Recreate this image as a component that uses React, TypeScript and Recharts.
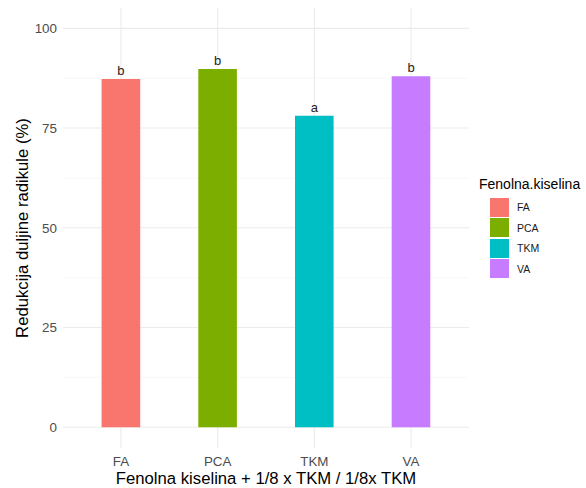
import { Bar, BarChart, CartesianGrid, Cell, LabelList, XAxis, YAxis } from "recharts";

const categories = ["FA", "PCA", "TKM", "VA"];
const reduction = [87.3, 89.8, 78.1, 88.0];
const letters = ["b", "b", "a", "b"];
const colors = ["#F8766D", "#7CAE00", "#00BFC4", "#C77CFF"];
const yTicks = [0, 25, 50, 75, 100];
const minorTicks = [12.5, 37.5, 62.5, 87.5];

const data = categories.map((name, i) => ({ name, value: reduction[i], sig: letters[i] }));

const font = '"Liberation Sans", Arial, sans-serif';
const yDomain: [number, number] = [-5.2, 105.1];
const xPad = 9.6;

// gridline positions from the plot offset and the axis domain
const yLines = (vals: number[]) => ({ offset }: any) =>
  vals.map((v) => offset.top + ((yDomain[1] - v) / (yDomain[1] - yDomain[0])) * offset.height);
const xLines = ({ offset }: any) => {
  const band = (offset.width - 2 * xPad) / categories.length;
  return categories.map((_, i) => offset.left + xPad + band * (i + 0.5));
};

const YTitle = ({ viewBox }: any) => {
  const cy = viewBox.y + viewBox.height / 2;
  return (
    <text
      x={22}
      y={cy}
      transform={`rotate(-90, 22, ${cy})`}
      textAnchor="middle"
      dominantBaseline="central"
      fontSize={16.7}
      fontFamily={font}
      fill="#000"
    >
      Redukcija duljine radikule (%)
    </text>
  );
};

const XTitle = ({ viewBox }: any) => (
  <text
    x={viewBox.x + viewBox.width / 2}
    y={478}
    textAnchor="middle"
    dominantBaseline="central"
    fontSize={16.7}
    fontFamily={font}
    fill="#000"
  >
    Fenolna kiselina + 1/8 x TKM / 1/8x TKM
  </text>
);

const LegendBox = () => (
  <div style={{ position: "absolute", left: 479, top: 175, fontFamily: font }}>
    <div style={{ fontSize: 14, color: "#000", lineHeight: "18px", marginBottom: 4 }}>Fenolna.kiselina</div>
    {categories.map((c, i) => (
      <div key={c} style={{ display: "flex", alignItems: "center", height: 20.5 }}>
        <div style={{ width: 19, height: 19, marginLeft: 10, background: colors[i], border: "0.5px solid #fff" }} />
        <span style={{ marginLeft: 7, fontSize: 10.5, color: "#1a1a1a" }}>{c}</span>
      </div>
    ))}
  </div>
);

export default function App() {
  return (
    <div style={{ position: "fixed", left: 0, top: 0, width: 586, height: 488, background: "#fff" }}>
      <BarChart width={586} height={488} data={data} margin={{ top: 8, right: 117, bottom: 0, left: 0 }}>
        <CartesianGrid
          stroke="#f4f4f4"
          strokeWidth={0.6}
          vertical={false}
          horizontalCoordinatesGenerator={yLines(minorTicks)}
        />
        <CartesianGrid
          stroke="#ebebeb"
          strokeWidth={1.1}
          horizontalCoordinatesGenerator={yLines(yTicks)}
          verticalCoordinatesGenerator={xLines}
        />
        <XAxis
          dataKey="name"
          height={40}
          padding={{ left: xPad, right: xPad }}
          axisLine={false}
          tickLine={false}
          tickSize={0}
          tickMargin={8}
          tick={{ fontSize: 13.4, fill: "#4d4d4d", fontFamily: font }}
          label={<XTitle />}
        />
        <YAxis
          width={63}
          domain={yDomain}
          ticks={yTicks}
          allowDataOverflow
          axisLine={false}
          tickLine={false}
          tickSize={0}
          tickMargin={6}
          tick={{ fontSize: 13.4, fill: "#4d4d4d", fontFamily: font }}
          label={<YTitle />}
        />
        <Bar dataKey="value" barSize={38.6} isAnimationActive={false}>
          {data.map((d, i) => (
            <Cell key={d.name} fill={colors[i]} />
          ))}
          <LabelList dataKey="sig" position="top" offset={4} fill="#222" fontSize={13} fontFamily={font} />
        </Bar>
      </BarChart>
      <LegendBox />
    </div>
  );
}
